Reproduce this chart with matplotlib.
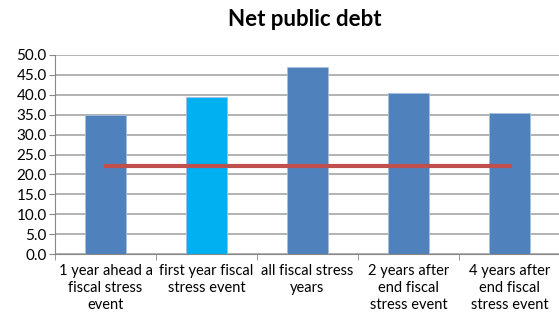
import matplotlib
matplotlib.use("Agg")
import matplotlib.pyplot as plt
import numpy as np

categories = [
    "1 year ahead a\nfiscal stress\nevent",
    "first year fiscal\nstress event",
    "all fiscal stress\nyears",
    "2 years after\nend fiscal\nstress event",
    "4 years after\nend fiscal\nstress event",
]
debt = [35.0, 39.4, 47.0, 40.5, 35.5]
average = [22.1, 22.1, 22.1, 22.1, 22.1]
bar_colors = ["#4F81BD", "#00B0F0", "#4F81BD", "#4F81BD", "#4F81BD"]

plt.rcParams["font.family"] = ["Lato", "DejaVu Sans"]

fig = plt.figure(figsize=(5.59, 3.27), dpi=100)
ax = fig.add_axes([55 / 559, 1 - 254 / 327, 505 / 559, 199 / 327])

x = np.arange(len(categories))
ax.bar(x, debt, width=0.4, color=bar_colors, edgecolor="#A7BFDE", linewidth=0.6, zorder=2)
ax.plot(x, average, color="#C0504D", lw=3, zorder=3)

ax.set_xlim(-0.5, len(categories) - 0.5)
ax.set_ylim(0, 50)
ax.set_yticks(np.arange(0, 50.1, 5))
ax.set_yticklabels([f"{v:.1f}" for v in np.arange(0, 50.1, 5)], fontsize=11)
ax.yaxis.grid(True, color="#A6A6A6", lw=1.2, zorder=0)
ax.set_axisbelow(True)

ax.set_xticks(x)
ax.set_xticklabels(categories, fontsize=10.5, linespacing=1.3)
ax.tick_params(axis="x", length=0, pad=7)
ax.set_xticks(np.arange(-0.5, len(categories)), minor=True)
ax.tick_params(axis="x", which="minor", length=4, color="#888888")
ax.tick_params(axis="y", length=4, color="#888888", pad=2)

for side in ["top", "right"]:
    ax.spines[side].set_visible(False)
for side in ["left", "bottom"]:
    ax.spines[side].set_color("#888888")

fig.text(305 / 559, 1 - 19 / 327, "Net public debt", ha="center", va="center",
         fontsize=16, fontweight="bold")

fig.savefig("out.png", dpi=100)
